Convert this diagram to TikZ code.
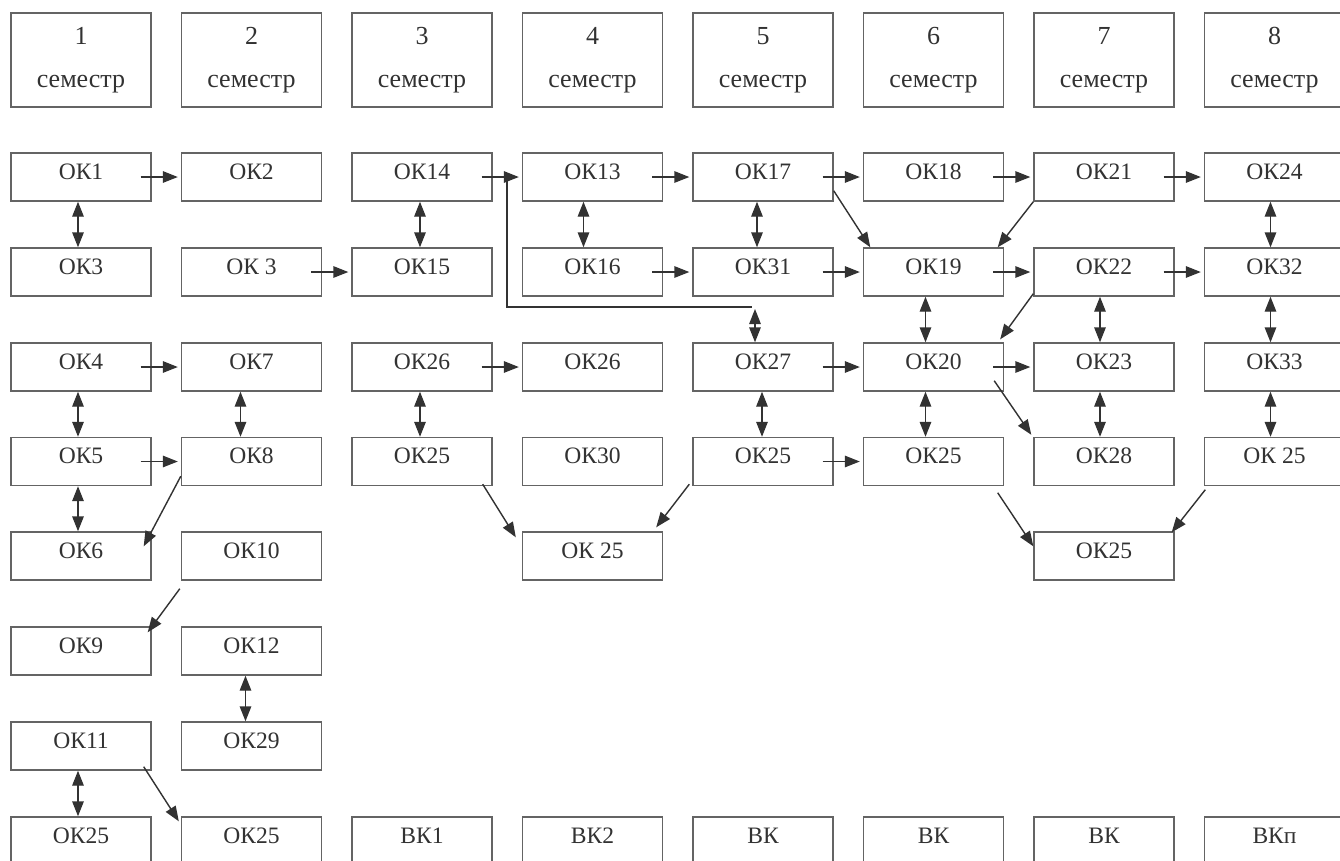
\documentclass[tikz,border=0pt]{standalone}
\usepackage{fontspec}
\setmainfont{Liberation Serif}
\usepackage{xcolor}
\definecolor{ink}{RGB}{50,50,50}
\definecolor{frame}{RGB}{100,100,100}
\usetikzlibrary{arrows.meta,positioning}
\tikzset{
  kbox/.style={draw=frame, line width=0.8pt, minimum width=2.8cm,
    inner xsep=0pt, inner ysep=0pt, text height=0.52cm, text depth=0.44cm,
    text=ink, font=\fontsize{13.4}{16}\selectfont},
  sembox/.style={draw=frame, line width=0.8pt, minimum width=2.8cm,
    minimum height=1.88cm, inner sep=0pt, align=center,
    text=ink, font=\fontsize{14.8}{24.4}\selectfont},
  link/.style={draw=ink, line width=0.8pt, -{Triangle[length=0.3cm,width=0.23cm]}},
  dlink/.style={draw=ink, line width=0.8pt,
    {Triangle[length=0.3cm,width=0.23cm]}-{Triangle[length=0.3cm,width=0.23cm]}},
  bus/.style={draw=ink, line width=0.8pt},
}

\begin{document}
\begin{tikzpicture}[x=0.02cm, y=-0.02cm]
\path[fill=white, use as bounding box] (0,0) rectangle (1340,860);

% semesters
\foreach \c in {1,...,8}
  \node[sembox] (s\c) at ({81+170.5*(\c-1)},60) {\c\\семестр};

% disciplines, row by row
\foreach \c/\t in {1/ОК1,2/ОК2,3/ОК14,4/ОК13,5/ОК17,6/ОК18,7/ОК21,8/ОК24}
  \node[kbox] (k1\c) at ({81+170.5*(\c-1)},177) {\t};
\foreach \c/\t in {1/ОК3,2/ОК 3,3/ОК15,4/ОК16,5/ОК31,6/ОК19,7/ОК22,8/ОК32}
  \node[kbox] (k2\c) at ({81+170.5*(\c-1)},272) {\t};
\foreach \c/\t in {1/ОК4,2/ОК7,3/ОК26,4/ОК26,5/ОК27,6/ОК20,7/ОК23,8/ОК33}
  \node[kbox] (k3\c) at ({81+170.5*(\c-1)},367) {\t};
\foreach \c/\t in {1/ОК5,2/ОК8,3/ОК25,4/ОК30,5/ОК25,6/ОК25,7/ОК28,8/ОК 25}
  \node[kbox] (k4\c) at ({81+170.5*(\c-1)},461.5) {\t};
\foreach \c/\t in {1/ОК6,2/ОК10,4/ОК 25,7/ОК25}
  \node[kbox] (k5\c) at ({81+170.5*(\c-1)},556) {\t};
\foreach \c/\t in {1/ОК9,2/ОК12}
  \node[kbox] (k6\c) at ({81+170.5*(\c-1)},651) {\t};
\foreach \c/\t in {1/ОК11,2/ОК29}
  \node[kbox] (k7\c) at ({81+170.5*(\c-1)},746) {\t};
\foreach \c/\t in {1/ОК25,2/ОК25,3/ВК1,4/ВК2,5/ВК,6/ВК,7/ВК,8/ВКп}
  \node[kbox] (k8\c) at ({81+170.5*(\c-1)},841) {\t};

% horizontal links
\foreach \a/\b in {11/12,13/14,14/15,15/16,16/17,17/18,
                   22/23,24/25,25/26,26/27,27/28,
                   31/32,33/34,35/36,36/37,
                   41/42,45/46}
  \draw[link] ([xshift=-0.22cm]k\a.east) -- ([xshift=-0.06cm]k\b.west);

% two-way links
\foreach \a/\b/\d in {11/21/-3,31/41/-3,41/51/-3,71/81/-3,
                      32/42/-11,62/72/-6,
                      13/23/-2,33/43/-2,
                      14/24/-9,
                      15/25/-6,35/45/-1,
                      26/36/-8,36/46/-8,
                      27/37/-4,37/47/-4,
                      18/28/-4,28/38/-4,38/48/-4}
  \draw[dlink] ([xshift=\d*0.02cm]k\a.south) -- ([xshift=\d*0.02cm]k\b.north);

% line from OK14 to OK27
\coordinate (j1) at (507,177);
\coordinate (j2) at (752,307);
\coordinate (j3) at (755,309);
\draw[bus] (j1) |- (j2);
\draw[dlink] (j3) -- (j3 |- k35.north);

% slanted links
\draw[link] ([yshift=0.2cm]k42.south west) -- ([xshift=-0.16cm,yshift=-0.3cm]k51.north east);
\draw[link] ([xshift=-0.02cm,yshift=-0.16cm]k52.south west) -- ([xshift=-0.08cm,yshift=-0.12cm]k61.north east);
\draw[link] ([xshift=-0.16cm,yshift=0.08cm]k71.south east) -- ([xshift=-0.04cm,yshift=-0.1cm]k82.north west);
\draw[link] ([xshift=-0.2cm,yshift=0.04cm]k43.south east) -- ([xshift=-0.12cm,yshift=-0.12cm]k54.north west);
\draw[link] ([xshift=-0.06cm,yshift=0.04cm]k45.south west) -- ([xshift=-0.14cm,yshift=0.08cm]k54.north east);
\draw[link] ([yshift=0.22cm]k15.south east) -- ([xshift=0.15cm]k26.north west);
\draw[link] (k17.south west) -- ([xshift=-0.13cm]k26.north east);
\draw[link] ([yshift=0.06cm]k27.south west) -- ([xshift=-0.08cm,yshift=0.06cm]k36.north east);
\draw[link] ([xshift=-0.2cm,yshift=0.22cm]k36.south east) -- ([xshift=-0.04cm,yshift=0.04cm]k47.north west);
\draw[link] ([xshift=-0.13cm,yshift=-0.13cm]k46.south east) -- ([yshift=-0.3cm]k57.north west);
\draw[link] ([xshift=0.03cm,yshift=-0.07cm]k48.south west) -- ([xshift=-0.06cm,yshift=-0.02cm]k57.north east);
\end{tikzpicture}
\end{document}
